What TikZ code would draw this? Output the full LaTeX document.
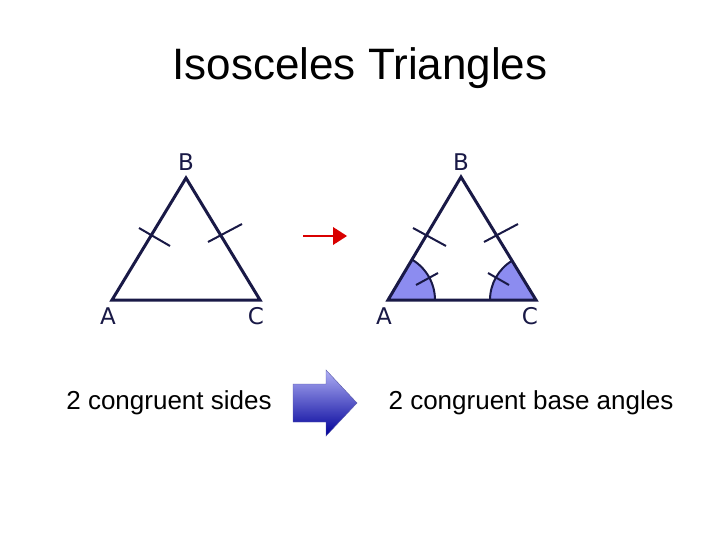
\documentclass[tikz,border=0pt]{standalone}
\usepackage{fontspec}
\setmainfont{Liberation Sans}
\newfontfamily\lblfont{DejaVu Sans}
\definecolor{navy}{RGB}{25,25,70}
\definecolor{fillb}{RGB}{140,140,240}
\begin{document}
\begin{tikzpicture}[x=1pt,y=-1pt,
  tri/.style={draw=navy,line width=3pt,line join=miter},
  tick/.style={draw=navy,line width=2pt},
  lbl/.style={font=\lblfont\fontsize{23}{23}\selectfont,text=navy},
  captext/.style={font=\fontsize{26}{26}\selectfont}]
\useasboundingbox (0,0) rectangle (720,540);
\node (title) at (360,68) {\fontsize{44}{44}\selectfont Isosceles Triangles};
% left triangle
\coordinate (A1) at (112,300); \coordinate (B1) at (186,178); \coordinate (C1) at (260,300);
\draw[tri] (A1) -- (B1) -- (C1) -- cycle;
\draw[tick] (139,228) -- (170,246);
\draw[tick] (208,242) -- (242,224);
\node[lbl] (lb1) at (186,162) {B};
\node[lbl] (la1) at (108,316) {A};
\node[lbl] (lc1) at (256,316) {C};
% right triangle
\coordinate (A2) at (388,300); \coordinate (B2) at (461,177); \coordinate (C2) at (536,300);
\fill[fillb] (A2) -- ++(0:47) arc[start angle=0,end angle=-59,radius=47] -- cycle;
\fill[fillb] (C2) -- ++(180:46) arc[start angle=180,end angle=239,radius=46] -- cycle;
\draw[tick] (A2) ++(0:47) arc[start angle=0,end angle=-59,radius=47];
\draw[tick] (C2) ++(180:46) arc[start angle=180,end angle=239,radius=46];
\draw[tri] (A2) -- (B2) -- (C2) -- cycle;
\draw[tick] (413,228) -- (446,246);
\draw[tick] (484,242) -- (518,224);
\draw[tick] (416,285) -- (438,273);
\draw[tick] (488,273) -- (509,285);
\node[lbl] (lb2) at (461,162) {B};
\node[lbl] (la2) at (384,316) {A};
\node[lbl] (lc2) at (530,316) {C};
% red arrow
\coordinate (r1) at (303,236); \coordinate (r2) at (347,236);
\draw[red!85!black,line width=2.5pt] (r1) -- (335,236);
\fill[red!85!black] (333,227) -- (r2) -- (333,245) -- cycle;
% big arrow
\shade[top color=fillb!70!white,bottom color=blue!60!black,draw=blue!30!gray,line width=0.4pt]
  (293,384) -- (326,384) -- (326,370) -- (357,403) -- (326,436) -- (326,422) -- (293,422) -- cycle;
\node[captext] (t1) at (169,403) {2 congruent sides};
\node[captext] (t2) at (531,403) {2 congruent base angles};
\end{tikzpicture}
\end{document}
